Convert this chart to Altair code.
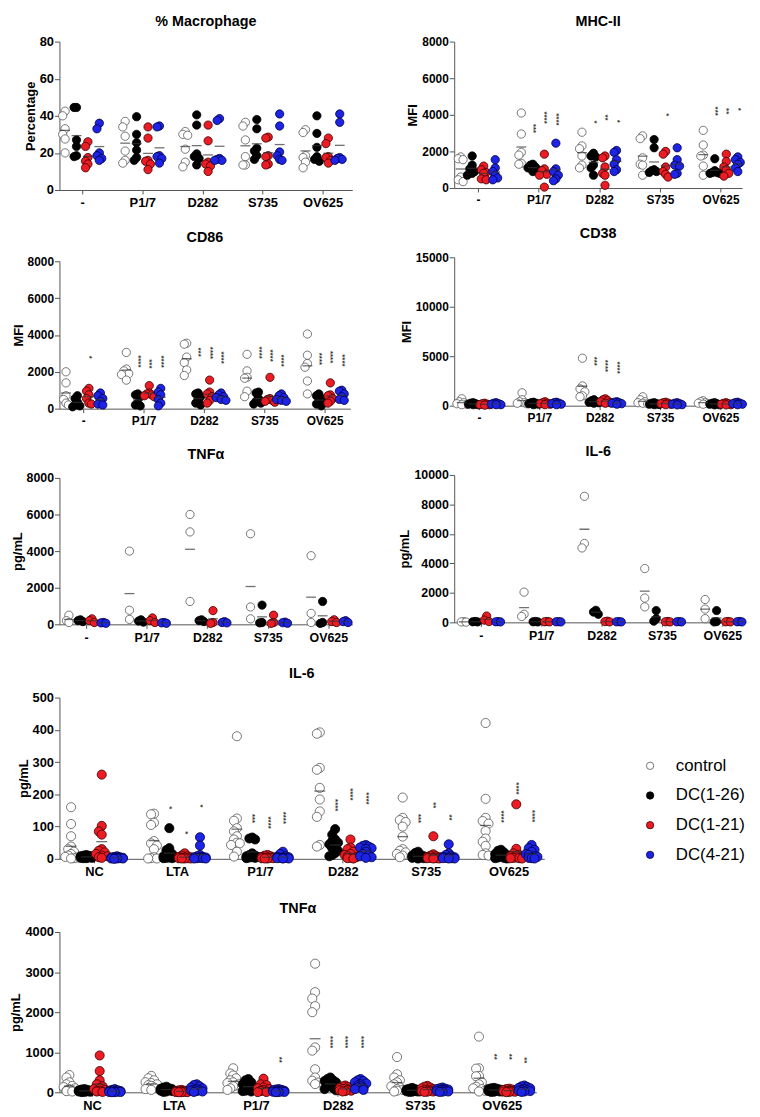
import altair as alt
import pandas as pd

FONT = "Liberation Sans"
SERIES = ["control", "DC(1-26)", "DC(1-21)", "DC(4-21)"]
FILLS = ["#ffffff", "#000000", "#ec1c24", "#1d24e6"]
STROKES = ["#555555", "#000000", "#3a0000", "#00003a"]
GROUPS_A = ["-", "P1/7", "D282", "S735", "OV625"]
GROUPS_B = ["NC", "LTA", "P1/7", "D282", "S735", "OV625"]

# ---------------- % Macrophage ----------------
MAC_CONTROL = [[42.5, 40, 33, 30, 27.5, 20], [37, 34, 29, 21, 16, 14.5], [31.5, 30, 29.5, 22, 15, 12.5],
               [36.5, 34.5, 27, 18, 13.5, 13.5], [32.5, 31, 18.5, 17.5, 15, 12]]
MAC_DC126 = [[44.5, 44.5, 27, 23.5, 18.5, 18], [39.5, 30, 25.5, 21.5, 17.5, 16], [40.5, 35, 19.5, 18, 17, 13.5],
             [38, 33, 22.5, 21, 18.5, 16.5], [40, 30.5, 23, 18, 16.5, 15.5]]
MAC_DC121 = [[26, 23.5, 17.5, 15.5, 14, 12], [34, 28, 16, 15.5, 14, 11], [35, 26.5, 15, 14, 13, 10],
             [28.5, 28, 18.5, 18, 14, 13.5], [28, 25, 18, 17.5, 16, 14.5]]
MAC_DC421 = [[36, 33, 20, 18.5, 17, 16], [34.5, 34, 18.5, 18, 17, 14.5], [38.5, 37.5, 17, 16.5, 16, 16],
             [41, 34.5, 20.5, 18.5, 16.5, 16], [41, 36.5, 17.5, 17, 16.5, 16]]

# ---------------- MHC-II ----------------
MHC_CONTROL = [[1700, 1600, 1550, 600, 450, 350], [4100, 2950, 1950, 1800, 1350, 1300], [3050, 2300, 2150, 1750, 1250, 1100],
               [2850, 2700, 1650, 1300, 1250, 700], [3150, 2350, 1800, 1750, 1200, 700]]
MHC_DC126 = [[1750, 1250, 1050, 900, 800, 700], [1300, 1250, 1150, 1100, 1000, 900], [1900, 1750, 1700, 1250, 1100, 700],
             [2650, 2200, 1000, 950, 900, 850], [1600, 950, 850, 850, 800, 800]]
MHC_DC121 = [[1200, 1000, 850, 800, 500, 450], [1850, 1050, 950, 750, 700, 50], [1750, 1650, 1150, 800, 700, 150],
             [2000, 1850, 1150, 900, 750, 600], [1850, 1450, 1150, 1000, 800, 650]]
MHC_DC421 = [[1550, 1100, 900, 700, 550, 450], [2450, 1050, 900, 700, 500, 400], [2050, 1950, 1550, 1300, 1000, 900],
             [2200, 1550, 1250, 1200, 800, 750], [1700, 1550, 1400, 1300, 1100, 900]]
MHC_SIG = [("P1/7", "DC(1-26)", "***", 3250), ("P1/7", "DC(1-21)", "****", 3850), ("P1/7", "DC(4-21)", "****", 3750),
           ("D282", "DC(1-26)", "*", 3600), ("D282", "DC(1-21)", "**", 3850), ("D282", "DC(4-21)", "*", 3650),
           ("S735", "DC(1-21)", "*", 4000),
           ("OV625", "DC(1-26)", "***", 4200), ("OV625", "DC(1-21)", "**", 4200), ("OV625", "DC(4-21)", "*", 4300)]

# ---------------- CD86 ----------------
CD86_CONTROL = [[2000, 1400, 700, 500, 300, 200], [3050, 2150, 2050, 1900, 1850, 1550], [3550, 3500, 2800, 2500, 2100, 1800],
                [2950, 2050, 1700, 1650, 950, 650], [4050, 2900, 2450, 2250, 1500, 800]]
CD86_DC126 = [[700, 550, 350, 200, 150, 100], [800, 750, 650, 300, 200, 150], [850, 800, 650, 450, 300, 200],
              [900, 850, 550, 400, 300, 250], [800, 700, 550, 350, 250, 150]]
CD86_DC121 = [[1100, 950, 750, 550, 300, 250], [1250, 850, 800, 750, 700, 650], [1550, 900, 800, 650, 450, 300],
              [1700, 550, 500, 450, 400, 350], [1400, 750, 700, 550, 400, 300]]
CD86_DC421 = [[850, 700, 550, 400, 250, 200], [1100, 900, 750, 500, 300, 150], [850, 750, 650, 600, 500, 450],
              [800, 700, 600, 500, 450, 400], [1000, 950, 800, 650, 500, 450]]
CD86_SIG = [("-", "DC(1-21)", "*", 2790),
            ("P1/7", "DC(1-26)", "****", 2570), ("P1/7", "DC(1-21)", "***", 2430), ("P1/7", "DC(4-21)", "****", 2550),
            ("D282", "DC(1-26)", "***", 3070), ("D282", "DC(1-21)", "****", 3020), ("D282", "DC(4-21)", "****", 2770),
            ("S735", "DC(1-26)", "****", 3040), ("S735", "DC(1-21)", "****", 2880), ("S735", "DC(4-21)", "****", 2610),
            ("OV625", "DC(1-26)", "****", 2700), ("OV625", "DC(1-21)", "****", 2800), ("OV625", "DC(4-21)", "****", 2620)]

# ---------------- CD38 ----------------
CD38_CONTROL = [[700, 400, 300, 200, 150, 100], [1300, 600, 400, 300, 250, 200], [4800, 2000, 1700, 1400, 1000, 900],
                [900, 600, 400, 300, 250, 200], [500, 400, 300, 250, 200, 150]]
CD38_DC126 = [[300, 250, 200, 150, 100, 100], [350, 300, 250, 200, 150, 100], [600, 500, 400, 350, 300, 250],
              [300, 250, 200, 150, 120, 100], [300, 250, 200, 150, 100, 80]]
CD38_DC121 = [[250, 200, 150, 100, 100, 50], [400, 300, 250, 200, 150, 100], [700, 600, 500, 400, 300, 250],
              [350, 300, 250, 200, 150, 100], [300, 250, 200, 150, 100, 80]]
CD38_DC421 = [[300, 250, 200, 150, 100, 100], [350, 300, 250, 200, 150, 100], [400, 350, 300, 250, 200, 150],
              [300, 250, 200, 150, 100, 80], [350, 300, 250, 200, 150, 100]]
CD38_SIG = [("D282", "DC(1-26)", "***", 4490), ("D282", "DC(1-21)", "****", 4020), ("D282", "DC(4-21)", "****", 3850)]

# ---------------- TNFa (small) ----------------
TNF_CONTROL = [[500, 200, 100], [4000, 770, 270], [6000, 5050, 1250], [4950, 950, 300], [3750, 600, 100]]
TNF_DC126 = [[250, 200, 150], [250, 180, 120], [250, 200, 150], [1050, 100, 80], [1250, 100, 50]]
TNF_DC121 = [[300, 200, 100], [350, 200, 100], [750, 100, 50], [500, 100, 50], [250, 150, 100]]
TNF_DC421 = [[100, 80, 60], [100, 80, 60], [150, 100, 80], [120, 90, 60], [200, 150, 100]]

# ---------------- IL-6 (small) ----------------
IL6S_CONTROL = [[50, 30, 20], [2050, 550, 400], [8550, 5350, 5050], [3650, 1650, 1050], [1550, 900, 250]]
IL6S_DC126 = [[60, 40, 30], [60, 40, 30], [820, 700, 550], [800, 250, 80], [800, 50, 30]]
IL6S_DC121 = [[430, 150, 50], [60, 40, 30], [80, 50, 30], [60, 40, 30], [60, 40, 30]]
IL6S_DC421 = [[50, 40, 30], [50, 40, 30], [50, 40, 30], [50, 40, 30], [60, 40, 30]]

# ---------------- IL-6 (wide) ----------------
IL6_CONTROL = [[160, 108, 70, 38, 30, 22, 15, 10, 6, 4, 2, 1],
               [140, 138, 112, 105, 55, 48, 41, 30, 5, 2, 1, 1],
               [380, 125, 118, 95, 85, 70, 60, 50, 48, 43, 22, 7],
               [392, 388, 282, 276, 220, 184, 147, 130, 43, 38],
               [190, 127, 120, 114, 100, 69, 30, 25, 20, 15, 10, 5],
               [421, 186, 127, 117, 109, 86, 63, 53, 40, 17, 12, 10]]
IL6_DC126 = [[12, 10, 9, 8, 7, 6, 5, 4, 3, 3, 2, 2],
             [95, 33, 27, 15, 12, 8, 6, 5, 4, 3, 2, 2],
             [66, 63, 60, 17, 12, 10, 8, 6, 5, 4, 3, 2],
             [92, 75, 60, 55, 50, 45, 40, 33, 25, 18, 12, 8],
             [22, 18, 12, 10, 8, 6, 5, 4, 3, 2, 2, 1],
             [28, 25, 20, 15, 12, 10, 8, 6, 4, 3, 2, 1]]
IL6_DC121 = [[261, 102, 85, 75, 30, 25, 20, 15, 10, 8, 5, 3],
             [17, 10, 8, 6, 5, 4, 3, 2, 2, 1, 1, 1],
             [12, 10, 8, 6, 5, 4, 3, 3, 2, 2, 1, 1],
             [60, 35, 30, 22, 15, 12, 8, 5, 3, 2, 2, 1],
             [70, 14, 10, 8, 6, 5, 4, 3, 2, 2, 1, 1],
             [169, 31, 17, 12, 10, 8, 6, 4, 3, 2, 2, 1]]
IL6_DC421 = [[8, 6, 5, 4, 3, 3, 2, 2, 1, 1, 1, 0],
             [67, 41, 12, 8, 6, 5, 4, 3, 2, 2, 1, 1],
             [22, 15, 8, 6, 5, 4, 3, 3, 2, 2, 1, 1],
             [43, 40, 38, 35, 33, 30, 22, 15, 10, 8, 5, 3],
             [45, 17, 12, 8, 6, 5, 4, 3, 2, 2, 1, 1],
             [43, 33, 28, 22, 15, 12, 8, 6, 4, 3, 2, 1]]
IL6_SIG = [("LTA", "DC(1-26)", "*", 158), ("LTA", "DC(1-21)", "*", 81), ("LTA", "DC(4-21)", "*", 164),
           ("P1/7", "DC(1-26)", "***", 125), ("P1/7", "DC(1-21)", "****", 112), ("P1/7", "DC(4-21)", "****", 127),
           ("D282", "DC(1-26)", "****", 166), ("D282", "DC(1-21)", "****", 200), ("D282", "DC(4-21)", "****", 187),
           ("S735", "DC(1-26)", "***", 125), ("S735", "DC(1-21)", "**", 166), ("S735", "DC(4-21)", "**", 128),
           ("OV625", "DC(1-26)", "****", 131), ("OV625", "DC(1-21)", "****", 218), ("OV625", "DC(4-21)", "****", 132)]

# ---------------- TNFa (wide) ----------------
TNFW_CONTROL = [[430, 370, 250, 200, 160, 130, 100, 80, 60, 40, 30, 20],
                [410, 350, 300, 250, 230, 200, 180, 160, 120, 100, 80, 60],
                [600, 470, 420, 350, 300, 250, 230, 200, 170, 150, 100, 60],
                [3210, 2500, 2340, 2150, 2000, 1120, 1040, 575, 370, 290, 245, 205],
                [880, 450, 370, 300, 250, 200, 150, 120, 80, 60, 40, 20],
                [1390, 600, 590, 410, 400, 250, 200, 140, 100, 80, 40, 20]]
TNFW_DC126 = [[80, 70, 60, 50, 40, 35, 30, 25, 20, 15, 10, 5],
              [140, 120, 100, 90, 80, 70, 60, 50, 40, 30, 20, 10],
              [330, 300, 250, 200, 150, 120, 100, 80, 60, 40, 30, 20],
              [370, 330, 300, 280, 250, 220, 200, 170, 140, 110, 80, 50],
              [110, 90, 80, 70, 60, 50, 40, 30, 25, 20, 15, 10],
              [110, 100, 90, 80, 70, 60, 50, 40, 30, 20, 15, 10]]
TNFW_DC121 = [[920, 530, 300, 200, 150, 100, 80, 60, 40, 30, 20, 10],
              [60, 50, 40, 30, 25, 20, 15, 10, 8, 5, 3, 2],
              [340, 200, 180, 120, 100, 80, 60, 40, 30, 20, 10, 5],
              [170, 150, 130, 110, 100, 90, 80, 60, 50, 40, 30, 20],
              [160, 140, 120, 100, 80, 60, 50, 40, 30, 20, 15, 10],
              [90, 80, 70, 60, 50, 40, 30, 25, 20, 15, 10, 5]]
TNFW_DC421 = [[80, 60, 50, 40, 30, 25, 20, 15, 10, 8, 5, 3],
              [200, 180, 150, 120, 100, 80, 60, 50, 40, 30, 20, 10],
              [80, 70, 60, 50, 40, 30, 25, 20, 15, 10, 5, 3],
              [330, 300, 280, 250, 220, 200, 170, 150, 120, 100, 80, 60],
              [120, 100, 90, 80, 70, 60, 50, 40, 30, 20, 15, 10],
              [170, 150, 130, 110, 100, 80, 60, 50, 40, 30, 20, 10]]
TNFW_SIG = [("P1/7", "DC(4-21)", "**", 810),
            ("D282", "DC(1-26)", "****", 1250), ("D282", "DC(1-21)", "****", 1250), ("D282", "DC(4-21)", "****", 1250),
            ("OV625", "DC(1-26)", "**", 885), ("OV625", "DC(1-21)", "**", 885), ("OV625", "DC(4-21)", "**", 800)]


def swarm(values, ymax, height, step):
    """Spread points that would overlap horizontally (GraphPad-like scatter)."""
    order = sorted(range(len(values)), key=lambda i: -values[i])
    slots = [0, -1, 1, -2, 2]
    placed = []
    jit = [0.0] * len(values)
    for i in order:
        ypx = values[i] / ymax * height
        chosen, best_hits, best_slot = None, None, 0
        for s in slots:
            hits = sum(1 for (p, q) in placed if q == s and abs(p - ypx) < 6.5)
            if hits == 0:
                chosen = s
                break
            if best_hits is None or hits < best_hits:
                best_hits, best_slot = hits, s
        if chosen is None:
            chosen = best_slot
        placed.append((ypx, chosen))
        jit[i] = chosen * step
    return jit


def build_points(lists, ymax, height, step):
    rows = []
    for si, per_group in enumerate(lists):
        for gi, vals in enumerate(per_group):
            for v, j in zip(vals, swarm(vals, ymax, height, step)):
                rows.append({"gi": gi, "si": si, "series": SERIES[si], "value": v, "jit": j})
    return pd.DataFrame(rows)


def panel(title, ytitle, groups, lists, ymax, ystep, sigs, width, height, off, sp,
          sub=0.19, psize=70, tick=10, step=0.04, lsize=12.5, toff=10):
    a = -off / sp
    b = a + width / sp
    pts = build_points(lists, ymax, height, step)
    pos = f"datum.gi + (datum.si - 1.5) * {sub}"
    lab = " : ".join(f"datum.value == {i} ? '{g}'" for i, g in enumerate(groups)) + " : ''"
    x = alt.X("xpos:Q", scale=alt.Scale(domain=[a, b], nice=False, zero=False),
              axis=alt.Axis(values=list(range(len(groups))), labelExpr=lab, title=None, tickSize=4,
                            labelPadding=3, labelFontSize=lsize, labelFlush=False, labelOverlap=False))
    y = alt.Y("value:Q", scale=alt.Scale(domain=[0, ymax], nice=False),
              axis=alt.Axis(values=list(range(0, ymax + 1, ystep)), format="d", title=ytitle, tickSize=5,
                            labelPadding=1, titlePadding=2, labelFontSize=lsize))
    fill = alt.Fill("series:N", scale=alt.Scale(domain=SERIES, range=FILLS), legend=None)
    stroke = alt.Stroke("series:N", scale=alt.Scale(domain=SERIES, range=STROKES), legend=None)

    points = alt.Chart(pts).transform_calculate(xpos=pos + " + datum.jit").mark_point(
        shape="circle", filled=True, size=psize, strokeWidth=0.8, opacity=1).encode(
        x=x, y=y, fill=fill, stroke=stroke)
    means = alt.Chart(pts).transform_aggregate(value="mean(value)", groupby=["gi", "si"]).transform_calculate(
        xpos=pos).mark_tick(orient="horizontal", size=tick, thickness=1.3, color="#333333").encode(x=x, y=y)
    layers = [points, means]
    if sigs:
        sdf = pd.DataFrame([{"gi": groups.index(g), "si": SERIES.index(s), "label": l, "value": v}
                            for g, s, l, v in sigs])
        stars = alt.Chart(sdf).transform_calculate(xpos=pos).mark_text(
            angle=90, fontSize=8, font=FONT, fontWeight="bold", color="#333333", align="center",
            baseline="middle").encode(x=x, y=y, text="label:N")
        layers.append(stars)
    return alt.layer(*layers).properties(width=width, height=height,
                                         title=alt.TitleParams(title, offset=toff))


p1 = panel("% Macrophage", "Percentage", GROUPS_A, [MAC_CONTROL, MAC_DC126, MAC_DC121, MAC_DC421],
           80, 20, [], 296, 150, 23, 60.75, lsize=13, toff=6)
p2 = panel("MHC-II", "MFI", GROUPS_A, [MHC_CONTROL, MHC_DC126, MHC_DC121, MHC_DC421],
           8000, 2000, MHC_SIG, 291, 148, 24, 61.3, lsize=12, toff=6)
p3 = panel("CD86", "MFI", GROUPS_A, [CD86_CONTROL, CD86_DC126, CD86_DC121, CD86_DC421],
           8000, 2000, CD86_SIG, 294, 149, 24, 61, lsize=12)
p4 = panel("CD38", "MFI", GROUPS_A, [CD38_CONTROL, CD38_DC126, CD38_DC121, CD38_DC421],
           15000, 5000, CD38_SIG, 291, 150, 25, 61, lsize=12)
p5 = panel("TNFα", "pg/mL", GROUPS_A, [TNF_CONTROL, TNF_DC126, TNF_DC121, TNF_DC421],
           8000, 2000, [], 296, 148, 27, 61.2)
p6 = panel("IL-6", "pg/mL", GROUPS_A, [IL6S_CONTROL, IL6S_DC126, IL6S_DC121, IL6S_DC421],
           10000, 2000, [], 291, 149, 27, 61)
p7 = panel("IL-6", "pg/mL", GROUPS_B, [IL6_CONTROL, IL6_DC126, IL6_DC121, IL6_DC421],
           500, 100, IL6_SIG, 490, 163, 35, 83.8, sub=0.185, psize=85, tick=11, step=0.035, lsize=13)
p8 = panel("TNFα", "pg/mL", GROUPS_B, [TNFW_CONTROL, TNFW_DC126, TNFW_DC121, TNFW_DC421],
           4000, 1000, TNFW_SIG, 482, 162, 33, 82.8, sub=0.185, psize=85, tick=11, step=0.035, lsize=13)

leg_df = pd.DataFrame({"series": SERIES, "idx": list(range(len(SERIES)))})
leg_y = alt.Y("idx:Q", scale=alt.Scale(domain=[-2.3, 3.367], reverse=True, nice=False, zero=False), axis=None)
leg_pts = alt.Chart(leg_df).mark_point(shape="circle", filled=True, size=55, strokeWidth=0.8, opacity=1).encode(
    x=alt.value(12), y=leg_y,
    fill=alt.Fill("series:N", scale=alt.Scale(domain=SERIES, range=FILLS), legend=None),
    stroke=alt.Stroke("series:N", scale=alt.Scale(domain=SERIES, range=STROKES), legend=None))
leg_txt = alt.Chart(leg_df).mark_text(align="left", baseline="middle", fontSize=17, font=FONT,
                                      color="#000000").encode(x=alt.value(38), y=leg_y, text="series:N")
legend = alt.layer(leg_pts, leg_txt).properties(width=115, height=170)

left = alt.vconcat(p1, p3, p5, spacing=20)
right = alt.vconcat(p2, p4, p6, spacing=20)
top = alt.hconcat(left, right, spacing=45)
row4 = alt.hconcat(p7, legend, spacing=95)
row5 = alt.hconcat(p8)

chart = alt.vconcat(top, row4, row5, spacing=22).properties(
    padding={"left": 2, "top": 0, "right": 0, "bottom": 0}).configure_view(
    stroke=None).configure_axis(
    domainColor="#555555", tickColor="#555555", labelColor="#000000", labelFont=FONT,
    labelFontWeight="bold", titleFont=FONT, titleFontWeight="bold", titleFontSize=13,
    titleColor="#000000", grid=False).configure_title(
    font=FONT, fontSize=14.5, fontWeight="bold", color="#000000", anchor="middle", frame="group", offset=10)

chart.save("out.html", embed_options={"renderer": "svg", "actions": False})
